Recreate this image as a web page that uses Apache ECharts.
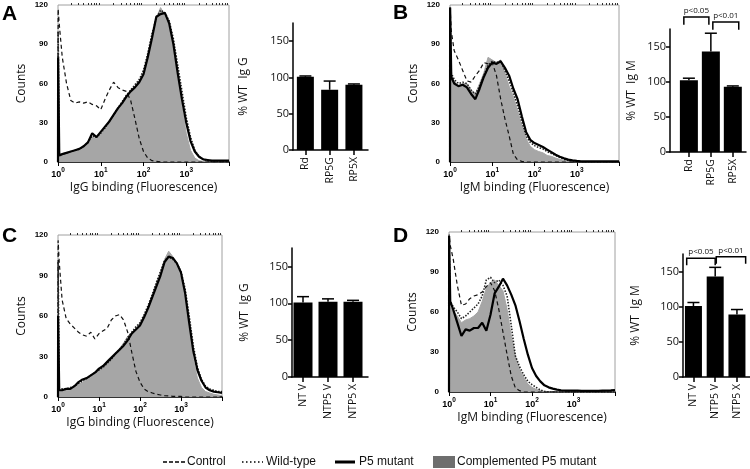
<!DOCTYPE html>
<html><head><meta charset="utf-8">
<script src="https://cdn.jsdelivr.net/npm/echarts@6/dist/echarts.min.js"></script>
<style>html,body{margin:0;padding:0;background:#fff}#c{width:750px;height:469px}</style>
</head><body><div id="c"></div>
<script>
// ---- Histogram data: x = log10(fluorescence), y = counts ----
const LOG_X = [0,0.003,0.03,0.1,0.2,0.3,0.4,0.5,0.6,0.7,0.8,0.9,1.0,1.1,1.2,1.3,1.4,1.5,1.6,1.7,1.8,1.9,2.0,2.1,2.2,2.3,2.4,2.5,2.6,2.7,2.8,2.9,3.0,3.1,3.2,3.3,3.4,3.5,3.6,3.7,3.8,3.9,4.0];

const A_CONTROL = [0,117,105,80,60,47,45,46,45,46,44,43,40,48,55,61,57,55,54,47,33,18,8,3,1,0.5,0,0,0,0,0,0,0,0,0,0,0,0,0,0,0,0,0];
const A_WILD    = [0,100,6,6,7,8,9,10,12,15,20,19,22,26,31,36,41,46,51,55,59,63,70,83,98,110,116,114,108,94,74,54,34,19,9,4,2,1,0.5,0.5,0.5,0.5,0.5];
const A_P5      = [0,80,5,6,7,8,9,10,12,15,22,19,23,27,31,36,41,45,50,54,57,61,67,80,95,111,113,114,106,90,68,48,30,16,8,4,2,1.5,1,1,1,1,1];
const A_COMP    = [0,75,5,5,6,7,8,9,11,14,19,18,21,25,30,35,40,45,51,55,58,62,68,82,97,110,118,112,104,88,64,42,22,9,3,1,0.5,0,0,0,0,0,0];

const B_CONTROL = [0,118,100,85,78,70,62,61,66,70,76,75,76,66,48,33,20,6,1.5,0.5,0,0,0,0,0,0,0,0,0,0,0,0,0,0,0,0,0,0,0,0,0,0,0];
const B_WILD    = [0,110,68,63,60,61,60,55,52,58,66,74,77,76,77,70,62,53,43,31,20,15,12.5,11,10,8,6.5,5,3.5,2,1.2,0.8,0.5,0,0,0,0,0,0,0,0,0,0];
const B_P5      = [0,118,65,60,58,59,57,52,48,56,65,72,76,75,77,72,66,56,48,35,23,17,14.5,13,11.5,9.5,7.5,5.5,4,2.8,1.8,1.2,0.8,0.5,0.5,0.5,0.5,0.5,0.5,0.5,0.5,0.5,0.5];
const B_COMP    = [0,118,66,62,58,60,60,55,52,60,68,80,78,76,78,68,58,50,39,28,18,12,9.4,8,7,5,4.3,3,2,1.2,0.8,0.5,0,0,0,0,0,0,0,0,0,0,0];

const C_CONTROL = [0,116,100,72,58,54,51,48,46,45,48,43,47,49,51,57,60,61,57,48,33,19,11,6,4,3,2,1.5,1,0.8,0.5,0.5,0.5,0,0,0,0,0,0,0,0,0,0];
const C_WILD    = [0,100,6,6,6,7,8,10,12,14,16,18,20,22,25,28,32,35,39,44,48,52,55,61,68,76,85,93,101,104,102,99,93,80,60,38,22,13,8,6,5,4,4];
const C_P5      = [0,60,5,5,6,6,8,11,13,14,16,18,21,23,26,29,32,35,38,42,47,50,53,59,66,74,82,90,100,104,103,99,92,77,55,34,20,12,7,5,4,3.5,3];
const C_COMP    = [0,55,4,4,5,5,7,9,11,13,15,17,20,23,27,30,33,36,40,45,48,51,55,60,67,75,84,92,102,108,104,97,88,72,50,28,14,7,4,3,2,1.5,1];

const D_CONTROL = [0,118,110,100,80,65,66,70,72,73,75,79,82,76,62,45,28,12,3,1,0,0,0,0,0,0,0,0,0,0,0,0,0,0,0,0,0,0,0,0,0,0,0];
const D_WILD    = [0,110,68,64,60,55,57,60,63,66,72,84,86,82,84,80,72,50,27,19,13,8,5.5,3.5,1.5,0.5,0,0,0,0,0,0,0,0,0,0,0,0,0,0,0,0,0];
const D_P5      = [0,117,68,62,52,42,47,46,48,48,52,46,58,74,79,85,80,73,65,53,40,28,18,12,8,5,3.5,2.5,1.8,1.3,1,1,1,1,0.8,0.8,0.8,0.8,0.8,1,1,1.2,1.5];
const D_COMP    = [0,118,64,61,57,52,54,55,57,60,68,78,82,84,80,76,62,42,27,17,11,6,3.5,2,1,0.5,0,0,0,0,0,0,0,0,0,0,0,0,0,0,0,0,0];

const HIST_TICKS = [0,1,2,3];          // decade exponents labelled
const COUNT_TICKS = [0,30,60,90,120];

// ---- Bar data ----
const CATS_RD = ['Rd','RP5G','RP5X'];
const CATS_NT = ['NT V','NTP5 V','NTP5 X'];
const A_BAR_MEAN = [101,83,90];  const A_BAR_ERR = [1,12,1];
const B_BAR_MEAN = [102,143,93]; const B_BAR_ERR = [3,26,1];
const C_BAR_MEAN = [101,102,102];const C_BAR_ERR = [8,4,2];
const D_BAR_MEAN = [101,143,89]; const D_BAR_ERR = [5,13,7];
const BAR_TICKS = [0,50,100,150];
// brackets: [x start, x end, y of bar, y of legs]
const B_BRACKETS = [[-0.23,0.91,192,181],[1.09,2.27,185,174]];
const B_BRACKET_TEXT = ['p<0.05','p<0.01'];
const D_BRACKETS = [[-0.31,1.0,169,159],[1.05,2.4,171,161]];
const D_BRACKET_TEXT = ['p<0.05','p<0.01'];

const SERIES_NAMES = ['Control','Wild-type','P5 mutant','Complemented P5 mutant'];

// ---------------------------------------------------------------
const FONT = 'Open Sans';
const NUMFONT = 'Liberation Sans';
const MINOR = [];
for (let n = 0; n < 4; n++) for (let k = 2; k <= 9; k++) MINOR.push(n + Math.log10(k));

const HIST = [
  {grid:{left:58,top:5,width:171,height:157}, xname:'IgG binding (Fluorescence)', ys:[A_CONTROL,A_WILD,A_P5,A_COMP]},
  {grid:{left:450,top:5,width:169,height:157}, xname:'IgM binding (Fluorescence)', ys:[B_CONTROL,B_WILD,B_P5,B_COMP]},
  {grid:{left:58,top:235,width:164,height:162}, xname:'IgG binding (Fluorescence)', ys:[C_CONTROL,C_WILD,C_P5,C_COMP]},
  {grid:{left:449,top:232,width:166,height:160}, xname:'IgM binding (Fluorescence)', ys:[D_CONTROL,D_WILD,D_P5,D_COMP]}
];
const BARS = [
  {grid:{left:293,top:23,width:75,height:127}, xmin:-0.51, xmax:2.58, cats:CATS_RD, mean:A_BAR_MEAN, err:A_BAR_ERR, bw:17, yname:'% WT  Ig G', gap:43},
  {grid:{left:670,top:29,width:76,height:123}, xmin:-0.86, xmax:2.6, cats:CATS_RD, mean:B_BAR_MEAN, err:B_BAR_ERR, bw:18, yname:'% WT  Ig M', gap:32, br:B_BRACKETS, brt:B_BRACKET_TEXT},
  {grid:{left:292,top:248,width:76,height:129}, xmin:-0.44, xmax:2.6, cats:CATS_NT, mean:C_BAR_MEAN, err:C_BAR_ERR, bw:19, yname:'% WT  Ig G', gap:41},
  {grid:{left:683,top:254,width:67,height:123}, xmin:-0.48, xmax:2.6, cats:CATS_NT, mean:D_BAR_MEAN, err:D_BAR_ERR, bw:17, yname:'% WT  Ig M', gap:41, br:D_BRACKETS, brt:D_BRACKET_TEXT}
];

const grid = [], xAxis = [], yAxis = [], series = [];

HIST.forEach((p, i) => {
  grid.push(Object.assign({show:true, borderColor:'#a0a0a0', borderWidth:1, backgroundColor:'transparent'}, p.grid));
  xAxis.push({
    type:'value', gridIndex:i, min:0, max:4, interval:1,
    name:p.xname, nameLocation:'middle', nameGap:20,
    nameTextStyle:{fontFamily:FONT, fontSize:12, color:'#111'},
    axisLine:{show:true, onZero:false, lineStyle:{color:'#000', width:1.5}},
    axisTick:{show:true, length:4, lineStyle:{color:'#000', width:1}},
    splitLine:{show:false},
    axisLabel:{margin:5, customValues:HIST_TICKS,
      formatter:v => '{b|10}{s|' + v + '}',
      rich:{b:{fontFamily:NUMFONT, fontWeight:'bold', fontSize:9, color:'#000', lineHeight:12, verticalAlign:'bottom'},
            s:{fontFamily:NUMFONT, fontWeight:'bold', fontSize:6.5, color:'#000', lineHeight:6, verticalAlign:'top'}}}
  });
  xAxis.push({
    type:'value', gridIndex:i, min:0, max:4,
    axisLine:{show:false, onZero:false}, axisLabel:{show:false}, splitLine:{show:false},
    axisTick:{show:true, length:2, customValues:MINOR, lineStyle:{color:'#000', width:0.8}}
  });
  yAxis.push({
    type:'value', gridIndex:i, min:0, max:120, interval:30,
    name:'Counts', nameLocation:'middle', nameGap:30,
    nameTextStyle:{fontFamily:FONT, fontSize:12, color:'#111'},
    axisLine:{show:false, onZero:false}, axisTick:{show:false}, splitLine:{show:false},
    axisLabel:{margin:10, fontFamily:NUMFONT, fontWeight:'bold', fontSize:8, color:'#000'}
  });
  const mk = arr => LOG_X.map((x, k) => [x, arr[k]]);
  const xi = 2*i, yi = i;
  series.push({name:SERIES_NAMES[3], type:'line', xAxisIndex:xi, yAxisIndex:yi, data:mk(p.ys[3]), symbol:'none', silent:true,
    lineStyle:{color:'#a6a6a6', width:1}, areaStyle:{color:'#a6a6a6', opacity:1}, z:2});
  series.push({name:SERIES_NAMES[0], type:'line', xAxisIndex:xi, yAxisIndex:yi, data:mk(p.ys[0]), symbol:'none', silent:true,
    lineStyle:{color:'#111', width:1.2, type:[4,3]}, z:3});
  series.push({name:SERIES_NAMES[1], type:'line', xAxisIndex:xi, yAxisIndex:yi, data:mk(p.ys[1]), symbol:'none', silent:true,
    lineStyle:{color:'#222', width:1.6, type:[1.5,1.5]}, z:4});
  series.push({name:SERIES_NAMES[2], type:'line', xAxisIndex:xi, yAxisIndex:yi, data:mk(p.ys[2]), symbol:'none', silent:true,
    lineStyle:{color:'#000', width:2.2}, z:5});
});

BARS.forEach((p, j) => {
  const gi = 4 + j;
  grid.push(Object.assign({show:false}, p.grid));
  const xi = 8 + j, yi = 4 + j;
  const idx = p.cats.map((c, k) => k);
  xAxis.push({
    type:'value', gridIndex:gi, min:p.xmin, max:p.xmax,
    axisLine:{show:true, onZero:false, lineStyle:{color:'#000', width:1.5}},
    axisTick:{show:true, length:5, customValues:idx, lineStyle:{color:'#000', width:1.5}},
    splitLine:{show:false},
    axisLabel:{customValues:idx, rotate:90, margin:7, fontFamily:FONT, fontSize:10.5, color:'#111',
      formatter:v => p.cats[Math.round(v)]}
  });
  yAxis.push({
    type:'value', gridIndex:gi, min:0, max:175,
    name:p.yname, nameLocation:'middle', nameGap:p.gap,
    nameTextStyle:{fontFamily:FONT, fontSize:12, color:'#111'},
    axisLine:{show:true, onZero:false, lineStyle:{color:'#000', width:1.5}},
    axisTick:{show:true, length:4, customValues:BAR_TICKS, lineStyle:{color:'#000', width:1.5}},
    splitLine:{show:false},
    axisLabel:{customValues:BAR_TICKS, margin:4, fontFamily:FONT, fontSize:11, color:'#111'}
  });
  series.push({type:'bar', xAxisIndex:xi, yAxisIndex:yi, barWidth:p.bw, silent:true,
    data:idx.map(k => [k, p.mean[k]]), itemStyle:{color:'#000'}});
  series.push({type:'custom', xAxisIndex:xi, yAxisIndex:yi, silent:true,
    data:idx.map(k => [k, p.mean[k], p.err[k]]), encode:{x:0, y:1},
    renderItem:(params, api) => {
      const x = api.value(0), m = api.value(1), e = api.value(2);
      const p0 = api.coord([x, m]), p1 = api.coord([x, m + e]);
      const w = 6;
      return {type:'group', children:[
        {type:'line', shape:{x1:p0[0], y1:p0[1], x2:p1[0], y2:p1[1]}, style:{stroke:'#000', lineWidth:1.5}},
        {type:'line', shape:{x1:p1[0]-w, y1:p1[1], x2:p1[0]+w, y2:p1[1]}, style:{stroke:'#000', lineWidth:1.5}}
      ]};
    }});
  if (p.br) {
    series.push({type:'custom', xAxisIndex:xi, yAxisIndex:yi, silent:true, clip:false,
      data:p.br, encode:{x:[0,1], y:[2,3]},
      renderItem:(params, api) => {
        const x1 = api.value(0), x2 = api.value(1), yt = api.value(2), yl = api.value(3);
        const a = api.coord([x1, yl]), b = api.coord([x1, yt]), c = api.coord([x2, yt]), d = api.coord([x2, yl]);
        return {type:'group', children:[
          {type:'polyline', shape:{points:[a, b, c, d]}, style:{stroke:'#000', lineWidth:1.5, fill:null}},
          {type:'text', x:(b[0] + c[0]) / 2, y:b[1] - 2,
            style:{text:p.brt[params.dataIndex], fontFamily:FONT, fontSize:8, fill:'#111', align:'center', verticalAlign:'bottom'}}
        ]};
      }});
  }
});

// legend + panel letters (layout decorations)
const LY = 462;
const graphic = [
  {type:'text', left:2, top:4, style:{text:'A', font:'bold 21px "Liberation Sans"', fill:'#000'}},
  {type:'text', left:393, top:3, style:{text:'B', font:'bold 21px "Liberation Sans"', fill:'#000'}},
  {type:'text', left:2, top:226, style:{text:'C', font:'bold 21px "Liberation Sans"', fill:'#000'}},
  {type:'text', left:393, top:226, style:{text:'D', font:'bold 21px "Liberation Sans"', fill:'#000'}},
  {type:'line', shape:{x1:163, y1:LY, x2:185, y2:LY}, style:{stroke:'#000', lineWidth:1.3, lineDash:[4,2]}},
  {type:'text', x:187, y:LY, style:{text:SERIES_NAMES[0], font:'12px "Liberation Sans"', fill:'#111', verticalAlign:'middle'}},
  {type:'line', shape:{x1:242, y1:LY, x2:263, y2:LY}, style:{stroke:'#000', lineWidth:1.3, lineDash:[1.5,2.5]}},
  {type:'text', x:266, y:LY, style:{text:SERIES_NAMES[1], font:'12px "Liberation Sans"', fill:'#111', verticalAlign:'middle'}},
  {type:'line', shape:{x1:335, y1:LY, x2:355, y2:LY}, style:{stroke:'#000', lineWidth:3}},
  {type:'text', x:359, y:LY, style:{text:SERIES_NAMES[2], font:'12px "Liberation Sans"', fill:'#111', verticalAlign:'middle'}},
  {type:'rect', shape:{x:433, y:LY-6, width:22, height:12}, style:{fill:'#6e6e6e'}},
  {type:'text', x:457, y:LY, style:{text:SERIES_NAMES[3], font:'12px "Liberation Sans"', fill:'#111', verticalAlign:'middle'}}
];

const chart = echarts.init(document.getElementById('c'), null, {renderer:'canvas', width:750, height:469});
chart.setOption({animation:false, backgroundColor:'#fff', grid, xAxis, yAxis, series, graphic});
</script>
</body></html>
